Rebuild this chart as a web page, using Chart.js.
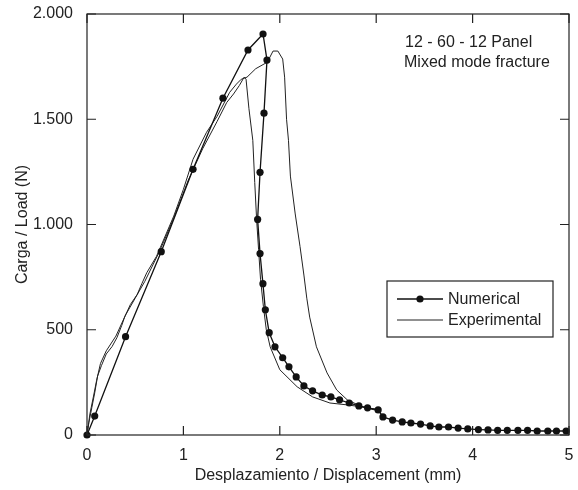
<!DOCTYPE html>
<html>
<head>
<meta charset="utf-8">
<script src="https://cdn.jsdelivr.net/npm/chart.js@4.4.1/dist/chart.umd.min.js"></script>
<style>
  html, body { margin: 0; padding: 0; background: #fff; }
  #wrap { width: 578px; height: 490px; position: relative; }
</style>
</head>
<body>
<div id="wrap"><canvas id="chart"></canvas></div>
<script>
// Numerical model (dots joined by line)
const numX = [0, 0.08, 0.40, 0.77, 1.10, 1.41, 1.67, 1.826, 1.867, 1.836, 1.795, 1.77, 1.795, 1.825, 1.85, 1.89, 1.95, 2.03, 2.095,
  2.17, 2.25, 2.34, 2.44, 2.53, 2.62, 2.72, 2.82, 2.91, 3.02, 3.07, 3.17, 3.27, 3.36, 3.46, 3.56, 3.65, 3.75, 3.85, 3.95,
  4.06, 4.16, 4.26, 4.36, 4.47, 4.57, 4.67, 4.78, 4.87, 4.97];
const numY = [0, 90, 467, 871, 1262, 1600, 1829, 1905, 1781, 1529, 1248, 1024, 862, 719, 595, 486, 419, 367, 324,
  276, 233, 210, 190, 181, 167, 152, 138, 129, 119, 86, 71, 62, 57, 52, 43, 38, 38, 33, 29,
  26, 24, 22, 22, 22, 22, 19, 19, 19, 19];

// Experimental specimen A (reaches the 1.82 kN peak)
const expAX = [0, 0.02, 0.05, 0.08, 0.11, 0.15, 0.2, 0.26, 0.31, 0.36, 0.39, 0.45, 0.52, 0.57, 0.62, 0.72, 0.76, 0.9, 1.0, 1.1,
  1.24, 1.35, 1.48, 1.55, 1.6, 1.66, 1.75, 1.87, 1.93, 1.98, 2.03, 2.05, 2.07, 2.09, 2.11, 2.16, 2.21, 2.25, 2.28, 2.31,
  2.38, 2.49, 2.59, 2.70, 2.86, 3.02];
const expAY = [0, 60, 130, 200, 280, 330, 385, 420, 462, 520, 560, 620, 667, 720, 771, 848, 890, 1040, 1167, 1310,
  1438, 1514, 1628, 1667, 1690, 1700, 1740, 1771, 1824, 1824, 1786, 1700, 1500, 1400, 1230, 1050, 895, 760, 650, 560,
  419, 295, 214, 167, 133, 115];

// Experimental specimen B (early failure near 1.7 kN)
const expBX = [0, 0.03, 0.07, 0.1, 0.14, 0.2, 0.3, 0.4, 0.5, 0.6, 0.75, 0.9, 1.05, 1.2, 1.35, 1.45, 1.52, 1.58, 1.63,
  1.65, 1.68, 1.72, 1.74, 1.76, 1.78, 1.80, 1.83, 1.86, 1.90, 2.0, 2.18, 2.34, 2.52, 2.70, 2.86, 3.03];
const expBY = [0, 100, 190, 260, 340, 400, 470, 570, 650, 730, 870, 1030, 1210, 1360, 1490, 1580, 1620, 1660, 1700,
  1690, 1550, 1400, 1200, 1020, 880, 740, 610, 500, 419, 310, 229, 181, 152, 143, 133, 120];

const xTicks = [0, 1, 2, 3, 4, 5];
const yTicks = [0, 500, 1000, 1500, 2000];
const noteLines = ['12 - 60 - 12 Panel', 'Mixed mode fracture'];

const FONT = 'Arial, "Liberation Sans", sans-serif';
const INK = '#222';

const toPoints = (xs, ys) => xs.map((x, i) => ({ x: x, y: ys[i] }));

// frame with inward ticks on all four sides, plus note and boxed legend
const framePlugin = {
  id: 'frame',
  afterDatasetsDraw(chart) {
    const { ctx, chartArea: a, scales: { x, y } } = chart;
    const tl = 9;
    ctx.save();
    ctx.strokeStyle = INK;
    ctx.lineWidth = 1.2;
    ctx.strokeRect(a.left, a.top, a.right - a.left, a.bottom - a.top);
    ctx.beginPath();
    xTicks.forEach(v => {
      const px = x.getPixelForValue(v);
      ctx.moveTo(px, a.bottom); ctx.lineTo(px, a.bottom - tl);
      ctx.moveTo(px, a.top); ctx.lineTo(px, a.top + tl);
    });
    yTicks.forEach(v => {
      const py = y.getPixelForValue(v);
      ctx.moveTo(a.left, py); ctx.lineTo(a.left + tl, py);
      ctx.moveTo(a.right, py); ctx.lineTo(a.right - tl, py);
    });
    ctx.stroke();

    // note in the upper right corner
    ctx.fillStyle = INK;
    ctx.font = '16px ' + FONT;
    ctx.textBaseline = 'middle';
    ctx.textAlign = 'left';
    ctx.fillText(noteLines[0], 405, 43);
    ctx.fillText(noteLines[1], 404, 63);

    // legend box
    const bx = 387, by = 281, bw = 166, bh = 56;
    ctx.fillStyle = '#fff';
    ctx.fillRect(bx, by, bw, bh);
    ctx.strokeStyle = INK;
    ctx.lineWidth = 1.2;
    ctx.strokeRect(bx, by, bw, bh);
    const rows = [{ ds: chart.data.datasets[0], y: 299 }, { ds: chart.data.datasets[1], y: 320 }];
    rows.forEach(r => {
      ctx.strokeStyle = r.ds.borderColor;
      ctx.lineWidth = r.ds.borderWidth;
      ctx.beginPath();
      ctx.moveTo(397, r.y); ctx.lineTo(443, r.y);
      ctx.stroke();
      if (r.ds.pointRadius > 0) {
        ctx.fillStyle = r.ds.pointBackgroundColor;
        ctx.beginPath();
        ctx.arc(420, r.y, r.ds.pointRadius, 0, Math.PI * 2);
        ctx.fill();
      }
      ctx.fillStyle = INK;
      ctx.fillText(r.ds.label, 448, r.y + 1);
    });
    ctx.restore();
  }
};

new Chart(document.getElementById('chart'), {
  type: 'scatter',
  data: {
    datasets: [
      {
        label: 'Numerical',
        data: toPoints(numX, numY),
        showLine: true,
        borderColor: '#111',
        borderWidth: 1.3,
        pointRadius: 3.6,
        pointBackgroundColor: '#111',
        pointBorderWidth: 0,
        clip: false
      },
      {
        label: 'Experimental',
        data: toPoints(expAX, expAY),
        showLine: true,
        borderColor: '#222',
        borderWidth: 1,
        pointRadius: 0
      },
      {
        label: 'Experimental B',
        data: toPoints(expBX, expBY),
        showLine: true,
        borderColor: '#222',
        borderWidth: 1,
        pointRadius: 0
      }
    ]
  },
  options: {
    responsive: true,
    maintainAspectRatio: false,
    animation: false,
    layout: { padding: { top: 14, right: 9, left: 0, bottom: 0 } },
    scales: {
      x: {
        type: 'linear',
        min: 0,
        max: 5,
        // fixed axis box, no extra room for the overhanging end labels
        afterFit: s => { s.height = 55; s.paddingLeft = 0; s.paddingRight = 0; },
        afterBuildTicks: s => { s.ticks = xTicks.map(v => ({ value: v })); },
        grid: { display: false, drawTicks: false },
        border: { display: false },
        ticks: {
          padding: 11,
          color: INK,
          font: { family: FONT, size: 16 },
          callback: v => String(v)
        },
        title: {
          display: true,
          text: 'Desplazamiento / Displacement (mm)',
          color: INK,
          font: { family: FONT, size: 16 },
          padding: { top: 0, bottom: 5 }
        }
      },
      y: {
        type: 'linear',
        min: 0,
        max: 2000,
        afterFit: s => { s.width = 87; s.paddingTop = 0; s.paddingBottom = 0; },
        afterBuildTicks: s => { s.ticks = yTicks.map(v => ({ value: v })); },
        grid: { display: false, drawTicks: false },
        border: { display: false },
        ticks: {
          padding: 14,
          color: INK,
          font: { family: FONT, size: 16 },
          callback: v => String(v).replace(/\B(?=(\d{3})+(?!\d))/g, '.')
        },
        title: {
          display: true,
          text: 'Carga / Load (N)',
          color: INK,
          font: { family: FONT, size: 16 },
          padding: { top: 13, bottom: 0 }
        }
      }
    },
    plugins: {
      legend: { display: false },
      tooltip: { enabled: false }
    }
  },
  plugins: [framePlugin]
});
</script>
</body>
</html>
